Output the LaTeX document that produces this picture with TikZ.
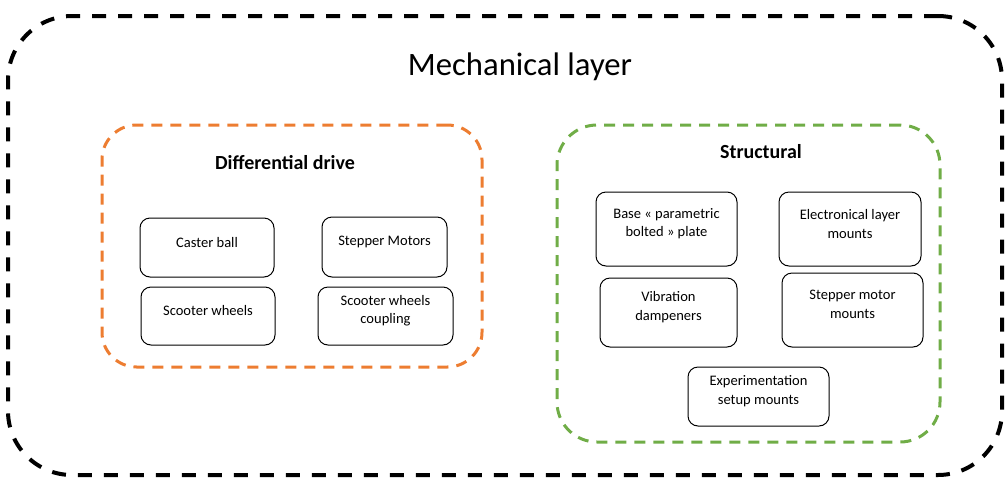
\documentclass[tikz,border=0pt]{standalone}
\usepackage{fontspec}
\setmainfont{Carlito}
\usetikzlibrary{positioning}
\definecolor{rust}{RGB}{237,125,49}
\definecolor{moss}{RGB}{112,173,71}
\definecolor{ink}{RGB}{0,0,0}
\tikzset{
  group/.style={draw=#1,line width=2.25pt,dash pattern=on 8.25pt off 6pt,
    rounded corners=26pt,inner sep=0pt},
  group/.default=ink,
  part/.style={draw=ink,line width=0.75pt,rounded corners=7.5pt,inner sep=0pt,
    minimum width=#1,minimum height=44.25pt},
  part/.default=100.5pt,
  tag/.style={font=\fontsize{10.9}{14.2}\selectfont,align=center,yshift=4pt,inner sep=0pt},
  head/.style={font=\fontsize{15}{18}\selectfont\bfseries,text=ink},
}

\begin{document}
\begin{tikzpicture}[x=0.75pt,y=-0.75pt]
  \useasboundingbox (0,0) rectangle (1007,483);
  % outer layer
  \node[group,line width=3pt,dash pattern=on 10.5pt off 9pt,rounded corners=48pt,
    minimum width=745.5pt,minimum height=344.25pt] (mech) at (505,245.5) {};
  \node[font=\fontsize{24.5}{28}\selectfont] (mechtitle) at (520,67) {Mechanical layer};
  % differential drive
  \node[group=rust,minimum width=285pt,minimum height=181.5pt] (diff) at (292,246) {};
  \node[head] (difftitle) at (285,163) {Differential drive};
  \node[part,label={[tag]center:Caster ball}] (caster) at (207,247.5) {};
  \node[part=93.75pt,minimum height=45pt,label={[tag]center:Stepper Motors}] (stepper) at (384.5,247) {};
  \node[part,minimum height=43.5pt,label={[tag]center:Scooter wheels}] (wheels) at (208,316) {};
  \node[part=101.25pt,minimum height=43.5pt,label={[tag]center:Scooter wheels\\coupling}] (coupling) at (385.5,316) {};
  % structural
  \node[group=moss,rounded corners=30pt,minimum width=287.25pt,minimum height=237.75pt] (struct) at (748.5,283.5) {};
  \node[head] (structtitle) at (761,152) {Structural};
  \node[part=105.75pt,minimum height=55.5pt,label={[tag]center:Base « parametric\\bolted » plate}] (plate) at (666.5,229) {};
  \node[part=106.5pt,minimum height=55.5pt,label={[tag]center:Electronical layer\\mounts}] (elec) at (850,229) {};
  \node[part=102.75pt,minimum height=51.75pt,label={[tag]center:Vibration\\dampeners}] (damp) at (668.5,312.5) {};
  \node[part=105.75pt,minimum height=55.5pt,label={[tag]center:Stepper motor\\mounts}] (motormt) at (852.5,310) {};
  \node[part=105.75pt,label={[tag]center:Experimentation\\setup mounts}] (expmt) at (758.5,396.5) {};
\end{tikzpicture}
\end{document}
